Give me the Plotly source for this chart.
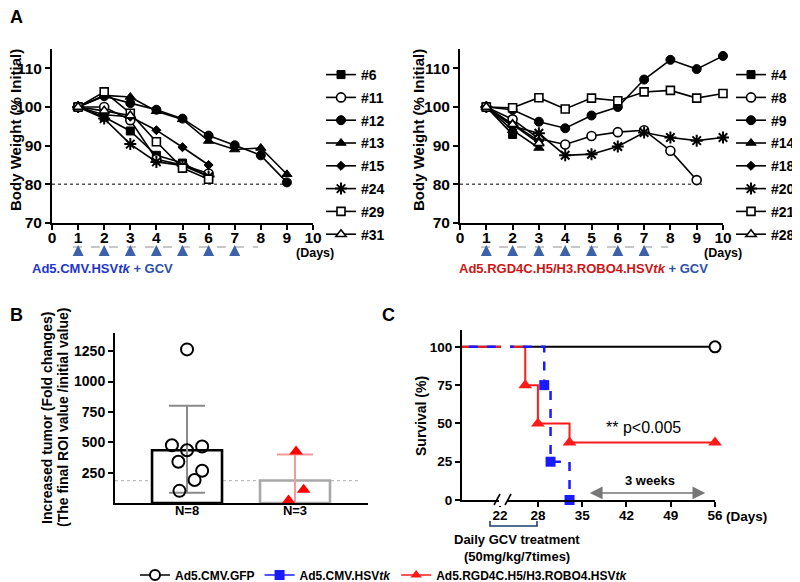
import plotly.graph_objects as go

W, H = 800, 582
OFF = 8  # page body margin of the browser
FONT = "Liberation Sans, Arial, sans-serif"


def fx(p):
    return (p - OFF) / W


def fy(p):
    return 1 - (p - OFF) / H


# ---------------- Panel A data (body weight, % initial) ----------------
days = [1, 2, 3, 4, 5, 6, 7, 8, 9, 10]
left_names = ["#6", "#11", "#12", "#13", "#15", "#24", "#29", "#31"]
w6 = [100, 97.4, 93.8, 87.5, 85.5, 82.0]
w11 = [100, 100.0, 96.6, 86.5, 85.0, 82.8]
w12 = [100, 102.8, 101.0, 99.3, 97.0, 92.6, 90.1, 87.5, 80.5]
w13 = [100, 103.0, 102.6, 98.9, 96.8, 91.2, 89.0, 89.4, 82.6]
w15 = [100, 98.0, 97.5, 94.0, 89.6, 85.0]
w24 = [100, 97.0, 90.4, 85.8, 84.9, 82.0]
w29 = [100, 103.9, 98.4, 91.0, 84.2, 81.3]
w31 = [100, 99.0, 97.8]
left_series = [w6, w11, w12, w13, w15, w24, w29, w31]

right_names = ["#4", "#8", "#9", "#14", "#18", "#20", "#21", "#28"]
r4 = [100, 92.9]
r8 = [100, 96.8, 91.8, 90.3, 92.5, 93.5, 94.0, 88.7, 81.1]
r9 = [100, 99.3, 96.2, 94.5, 97.8, 100.0, 107.1, 112.2, 109.8, 113.2]
r14 = [100, 94.0, 89.4]
r18 = [100, 95.5, 91.2]
r20 = [100, 95.0, 93.2, 87.5, 87.8, 89.8, 93.4, 92.1, 91.3, 92.1]
r21 = [100, 99.8, 102.4, 99.5, 102.3, 101.6, 103.9, 104.3, 102.3, 103.5]
r28 = [100, 95.5, 90.6]
right_series = [r4, r8, r9, r14, r18, r20, r21, r28]

gcv_days = [1, 2, 3, 4, 5, 6, 7]
a_xticks = [0, 1, 2, 3, 4, 5, 6, 7, 8, 9, 10]
a_yticks = [70, 80, 90, 100, 110]

# ---------------- Panel B data ----------------
b_labels = ["N=8", "N=3"]
b_means = [435, 185]
b_sd_plus = [365, 215]
b_sd_minus = [350, 215]
gfp_x = [1.00, 0.86, 1.00, 1.14, 0.92, 1.14, 1.07, 0.93]
gfp_y = [1265, 475, 435, 465, 340, 265, 190, 100]
tk_x = [2.01, 2.08, 1.94]
tk_y = [425, 110, 20]
b_yticks = [250, 500, 750, 1000, 1250]

# ---------------- Panel C data (survival) ----------------
gfp_days = [0, 56]
gfp_surv = [100, 100]
robo_days = [0, 26, 28, 33, 56]
robo_surv = [100, 75, 50, 37.5, 37.5]
cmv_days = [0, 29, 30, 33]
cmv_surv = [100, 75, 25, 0]
c_xticks = [22, 28, 35, 42, 49, 56]
c_yticks = [0, 25, 50, 75, 100]

fig = go.Figure()

open_m = dict(color="white", line=dict(color="black", width=1.6))
fill_m = dict(color="black", line=dict(color="black", width=1))
styles = [
    dict(symbol="square", size=8, **fill_m),
    dict(symbol="circle", size=9, **open_m),
    dict(symbol="circle", size=9, **fill_m),
    dict(symbol="triangle-up", size=9, **fill_m),
    dict(symbol="diamond", size=7, **fill_m),
    dict(symbol="asterisk-open", size=10, color="black", line=dict(color="black", width=2)),
    dict(symbol="square", size=8, **open_m),
    dict(symbol="triangle-up", size=9, **open_m),
]

for names, series, xa, ya, lg in [
    (left_names, left_series, "x", "y", "legend"),
    (right_names, right_series, "x2", "y2", "legend2"),
]:
    for i, (nm, vals) in enumerate(zip(names, series)):
        fig.add_trace(go.Scatter(
            x=days[:len(vals)], y=vals, name=nm, mode="lines+markers",
            line=dict(color="black", width=1.6), marker=styles[i],
            xaxis=xa, yaxis=ya, legend=lg, legendgroup=lg + nm,
            cliponaxis=False,
        ))

# ---- Panel B bars
bar_line_colors = ["black", "#a8a8a8"]
err_colors = ["#8a8a8a", "#f59a9a"]
for i in range(2):
    fig.add_trace(go.Bar(
        x=[i + 1], y=[b_means[i]], width=0.648,
        marker=dict(color="white", line=dict(color=bar_line_colors[i], width=2.6)),
        error_y=dict(type="data", array=[b_sd_plus[i]], arrayminus=[b_sd_minus[i]],
                     color=err_colors[i], thickness=2, width=18),
        xaxis="x3", yaxis="y3", showlegend=False,
    ))
fig.add_trace(go.Scatter(
    x=gfp_x, y=gfp_y, mode="markers",
    marker=dict(symbol="circle", size=12, color="rgba(255,255,255,0)",
                line=dict(color="black", width=2)),
    xaxis="x3", yaxis="y3", showlegend=False, cliponaxis=False,
))
fig.add_trace(go.Scatter(
    x=tk_x, y=tk_y, mode="markers",
    marker=dict(symbol="triangle-up", size=12, color="#ff0000"),
    xaxis="x3", yaxis="y3", showlegend=False, cliponaxis=False,
))

# ---- Panel C survival
RED = "#ff1a1a"
BLUE = "#1a1aff"
fig.add_trace(go.Scatter(x=gfp_days, y=gfp_surv, mode="lines", line=dict(color="black", width=2, shape="hv"),
                         xaxis="x4", yaxis="y4", showlegend=False))
fig.add_trace(go.Scatter(x=robo_days, y=robo_surv, mode="lines", line=dict(color=RED, width=2, shape="hv"),
                         xaxis="x4", yaxis="y4", showlegend=False))
fig.add_trace(go.Scatter(x=cmv_days, y=cmv_surv, mode="lines",
                         line=dict(color=BLUE, width=2.5, shape="hv", dash="dash"),
                         xaxis="x4", yaxis="y4", showlegend=False))
fig.add_trace(go.Scatter(x=gfp_days[1:], y=gfp_surv[1:], mode="markers",
                         marker=dict(symbol="circle", size=11, color="white", line=dict(color="black", width=2)),
                         xaxis="x4", yaxis="y4", showlegend=False, cliponaxis=False))
fig.add_trace(go.Scatter(x=robo_days[1:], y=robo_surv[1:], mode="markers",
                         marker=dict(symbol="triangle-up", size=12, color=RED),
                         xaxis="x4", yaxis="y4", showlegend=False, cliponaxis=False))
fig.add_trace(go.Scatter(x=cmv_days[1:], y=cmv_surv[1:], mode="markers",
                         marker=dict(symbol="square", size=10, color=BLUE),
                         xaxis="x4", yaxis="y4", showlegend=False, cliponaxis=False))

for nm, col, sym, mk in [
    ("Ad5.CMV.GFP", "black", "circle", dict(color="white", line=dict(color="black", width=2))),
    ("Ad5.CMV.HSV<i>tk</i>", BLUE, "square", dict(color=BLUE)),
    ("Ad5.RGD4C.H5/H3.ROBO4.HSV<i>tk</i>", RED, "triangle-up", dict(color=RED)),
]:
    fig.add_trace(go.Scatter(x=[None], y=[None], name=nm, mode="lines+markers",
                             line=dict(color=col, width=1.5),
                             marker=dict(symbol=sym, size=10, **mk),
                             xaxis="x4", yaxis="y4", legend="legend3"))


def tf(size):
    return dict(family=FONT, size=size, color="black", weight="bold")


axis_common = dict(showline=True, linewidth=2, linecolor="black", ticks="outside", ticklen=5,
                   tickwidth=2, tickcolor="black", showgrid=False, zeroline=False, tickfont=tf(15.5))
xstand = dict(ticklabelstandoff=-6)

a_y = [fy(223), fy(49)]
legend_font = tf(14)
layout = dict(
    width=W, height=H, margin=dict(l=0, r=0, t=0, b=0, autoexpand=False),
    plot_bgcolor="white", paper_bgcolor="white",
    font=dict(family=FONT, color="black", weight="bold"),
    barmode="overlay",
    xaxis=dict(domain=[fx(52), fx(313)], anchor="y", range=[0, 10], tickvals=a_xticks, **axis_common, **xstand),
    yaxis=dict(domain=a_y, anchor="x", range=[70, 115], tickvals=a_yticks, **axis_common),
    xaxis2=dict(domain=[fx(460), fx(723)], anchor="y2", range=[0, 10], tickvals=a_xticks, **axis_common, **xstand),
    yaxis2=dict(domain=a_y, anchor="x2", range=[70, 115], tickvals=a_yticks, **axis_common),
    xaxis3=dict(domain=[fx(115), fx(368)], anchor="y3", range=[0.333, 2.676], tickvals=[1, 2],
                ticktext=b_labels, **{**axis_common, "ticks": "", "tickfont": tf(13)}, ticklabelstandoff=-6),
    yaxis3=dict(domain=[fy(503), fy(333)], anchor="x3", range=[0, 1400], tickvals=b_yticks,
                **{**axis_common, "tickfont": tf(14)}),
    xaxis4=dict(domain=[fx(462), fx(715)], anchor="y4", range=[16, 56], tickvals=c_xticks,
                **{**axis_common, "tickfont": tf(13.5)}, ticklabelstandoff=-3),
    yaxis4=dict(domain=[fy(500), fy(330)], anchor="x4", range=[0, 111], tickvals=c_yticks,
                **{**axis_common, "tickfont": tf(13.5)}),
    legend=dict(x=fx(321), y=fy(59), xanchor="left", yanchor="top", bgcolor="rgba(0,0,0,0)",
                font=legend_font, tracegroupgap=1.6, itemwidth=30),
    legend2=dict(x=fx(731), y=fy(59), xanchor="left", yanchor="top", bgcolor="rgba(0,0,0,0)",
                 font=legend_font, tracegroupgap=1.6, itemwidth=30),
    legend3=dict(x=fx(135), y=fy(575), xanchor="left", yanchor="middle", orientation="h",
                 bgcolor="rgba(0,0,0,0)", font=tf(12), itemwidth=30),
)
fig.update_layout(**layout)

ann = []
shapes = []


def text(x, y, s, size=13, weight="bold", xanchor="center", angle=0, color="black"):
    ann.append(dict(x=fx(x), y=fy(y), xref="paper", yref="paper", text=s, showarrow=False,
                    xanchor=xanchor, yanchor="middle", textangle=angle,
                    font=dict(family=FONT, size=size, color=color, weight=weight)))


# panel letters
text(8, 17, "A", size=18, xanchor="left")
text(8, 315, "B", size=18, xanchor="left")
text(380, 315, "C", size=18, xanchor="left")

# axis titles
text(15, 130, "Body Weight (% Initial)", size=15, angle=-90)
text(418, 130, "Body Weight (% Initial)", size=15, angle=-90)
text(47, 418, "Increased tumor (Fold changes)", size=14, angle=-90)
text(63, 418, "(The final ROI value /initial value)", size=14, angle=-90)
text(421, 416, "Survival (%)", size=14, angle=-90)

# (Days)
text(315, 253, "(Days)", size=12.5)
text(723, 253, "(Days)", size=12.5)
text(724, 516, "(Days)", size=13.5, xanchor="left")

# treatment labels
text(30, 268, "<span style='color:#1f35d0'>Ad5.CMV.HSV<i>tk</i></span> "
              "<span style='color:#2c50a8'>+ GCV</span>", size=13, xanchor="left")
text(457, 268, "<span style='color:#d01515'>Ad5.RGD4C.H5/H3.ROBO4.HSV<i>tk</i></span> "
               "<span style='color:#2c50a8'>+ GCV</span>", size=13, xanchor="left")

# GCV arrows and dashed line
for xa, ya in [("x", "y"), ("x2", "y2")]:
    shapes.append(dict(type="line", xref=xa, yref="paper", x0=0.8, x1=7.9, y0=fy(247), y1=fy(247),
                       line=dict(color="#b5b5b5", width=1.5, dash="dash"), layer="below"))
    for d in gcv_days:
        ann.append(dict(x=d, y=fy(245), xref=xa, yref="paper", ax=0, ay=9, text="", showarrow=True,
                        arrowhead=2, arrowsize=1.1, arrowwidth=2, arrowcolor="#3d62aa"))
    shapes.append(dict(type="line", xref=xa, yref=ya, x0=0, x1=9.2, y0=80, y1=80,
                       line=dict(color="#555555", width=1.5, dash="dot"), layer="below"))

# Panel B dotted reference line
shapes.append(dict(type="line", xref="x3", yref="y3", x0=0.333, x1=2.6, y0=b_means[1], y1=b_means[1],
                   line=dict(color="#bdbdbd", width=1.3, dash="dot"), layer="below"))

# Panel C annotations
text(643, 427, "** p<0.005", size=16, weight="normal")
text(650, 480, "3 weeks", size=13)
ann.append(dict(x=36.2, y=4.6, ax=54.7, ay=4.6, xref="x4", yref="y4", axref="x4", ayref="y4",
                text="", showarrow=True, arrowhead=2, arrowside="start+end", arrowsize=1.6,
                arrowwidth=1.6, arrowcolor="#777777"))
text(517, 539, "Daily GCV treatment", size=13)
text(517, 556, "(50mg/kg/7times)", size=13)
shapes.append(dict(type="path", xref="paper", yref="paper",
                   path=f"M {fx(490)} {fy(521)} L {fx(490)} {fy(526)} L {fx(537)} {fy(526)} L {fx(537)} {fy(521)}",
                   line=dict(color="#1f3f6e", width=1.6)))
# axis break
shapes.append(dict(type="rect", xref="paper", yref="paper", x0=fx(499), x1=fx(507), y0=fy(506), y1=fy(497),
                   fillcolor="white", line=dict(width=0), layer="above"))
shapes.append(dict(type="rect", xref="paper", yref="paper", x0=fx(501), x1=fx(510), y0=fy(350), y1=fy(344),
                   fillcolor="white", line=dict(width=0), layer="above"))
for bx in [497, 508]:
    shapes.append(dict(type="line", xref="paper", yref="paper", x0=fx(bx - 3), x1=fx(bx + 3),
                       y0=fy(505), y1=fy(494), line=dict(color="black", width=1.6), layer="above"))

fig.update_layout(annotations=ann, shapes=shapes)
fig.write_html("out.html")
